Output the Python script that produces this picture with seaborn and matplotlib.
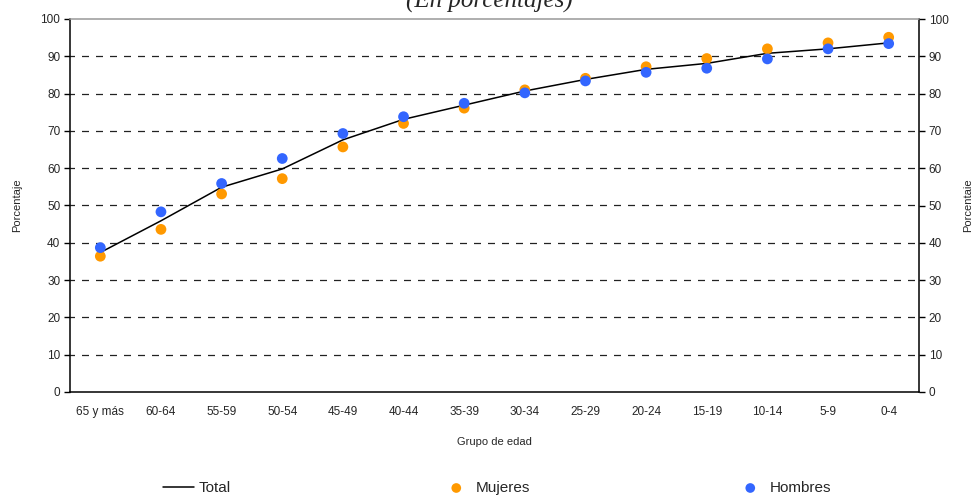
import numpy as np
import pandas as pd
import matplotlib
matplotlib.use("Agg")
import matplotlib.pyplot as plt
import seaborn as sns
from matplotlib.ticker import FixedLocator

grupos = ["65 y más", "60-64", "55-59", "50-54", "45-49", "40-44", "35-39",
          "30-34", "25-29", "20-24", "15-19", "10-14", "5-9", "0-4"]
total = [37.4, 45.9, 54.9, 59.8, 67.6, 73.1, 76.9, 80.7, 83.8, 86.5, 88.1, 90.8, 92.0, 93.6]
mujeres = [36.4, 43.6, 53.1, 57.2, 65.7, 72.0, 76.1, 81.0, 84.1, 87.2, 89.4, 92.0, 93.6, 95.1]
hombres = [38.7, 48.3, 55.9, 62.6, 69.3, 73.8, 77.4, 80.2, 83.4, 85.7, 86.8, 89.3, 92.0, 93.4]
yticks = [0, 10, 20, 30, 40, 50, 60, 70, 80, 90, 100]

df = pd.DataFrame({"grupo": grupos, "Total": total, "Mujeres": mujeres, "Hombres": hombres})

sns.set_theme(style="white")
plt.rcParams["font.family"] = ["Liberation Sans", "DejaVu Sans"]

fig = plt.figure(figsize=(9.71, 4.96), dpi=100)
ax = fig.add_axes([70/971, 104/496, 849/971, 373/496])

sns.lineplot(data=df, x="grupo", y="Total", sort=False, color="black",
             linewidth=1.1, ax=ax, label="Total", legend=False)
sns.scatterplot(data=df, x="grupo", y="Mujeres", color="#FF9900", s=60,
                edgecolor="none", ax=ax, label="Mujeres", legend=False, zorder=3)
sns.scatterplot(data=df, x="grupo", y="Hombres", color="#3366FF", s=60,
                edgecolor="none", ax=ax, label="Hombres", legend=False, zorder=4)

ax.set_xlim(-0.5, len(grupos) - 0.5)
ax.set_ylim(0, 100)
ax.set_yticks(yticks)
ax.set_xticks(range(len(grupos)))
ax.set_xticklabels(grupos, fontsize=8.5)
ax.xaxis.set_minor_locator(FixedLocator(np.arange(-0.5, len(grupos), 1.0)))
ax.tick_params(axis="x", which="major", length=0, pad=10)
ax.tick_params(axis="x", which="minor", length=4, width=1, color="black", direction="out")
ax.tick_params(axis="y", length=4, width=1, color="black", direction="out", labelsize=8.5, pad=3, left=True)
for y in yticks[1:-1]:
    ax.axhline(y, color="#222222", linestyle=(2, (5.6, 5.6)), linewidth=0.9, zorder=0)

for side in ["left", "bottom", "right"]:
    ax.spines[side].set_color("black")
    ax.spines[side].set_linewidth(1.1)
ax.spines["top"].set_color("#999999")
ax.spines["top"].set_linewidth(1.1)

ax.set_xlabel("Grupo de edad", fontsize=8, labelpad=14)
ax.set_ylabel("")
fig.text(17/971, 1 - 205/496, "Porcentaje", rotation=90, fontsize=8, ha="center", va="center")

ax2 = ax.twinx()
ax2.set_ylim(0, 100)
ax2.set_yticks(yticks)
ax2.tick_params(axis="y", length=4, width=1, color="black", direction="out", labelsize=8.5, pad=3, right=True)
for s in ax2.spines.values():
    s.set_visible(False)
fig.text(968/971, 1 - 205/496, "Porcentaje", rotation=90, fontsize=8, ha="center", va="center")

fig.text(489/971, 1 - 8/496, "(En porcentajes)", fontsize=18, style="italic",
         family=["Liberation Serif", "DejaVu Serif"], ha="center", va="baseline")

h, l = ax.get_legend_handles_labels()
pos = {"Total": 163, "Mujeres": 441, "Hombres": 735}
for hh, ll in zip(h, l):
    fig.legend(handles=[hh], labels=[ll], loc="center left",
               bbox_to_anchor=(pos[ll]/971, 1 - 488/496), frameon=False,
               fontsize=11, handlelength=2.0, handletextpad=0.3,
               borderpad=0, borderaxespad=0, markerscale=0.9)

fig.savefig("out.png", dpi=100)
